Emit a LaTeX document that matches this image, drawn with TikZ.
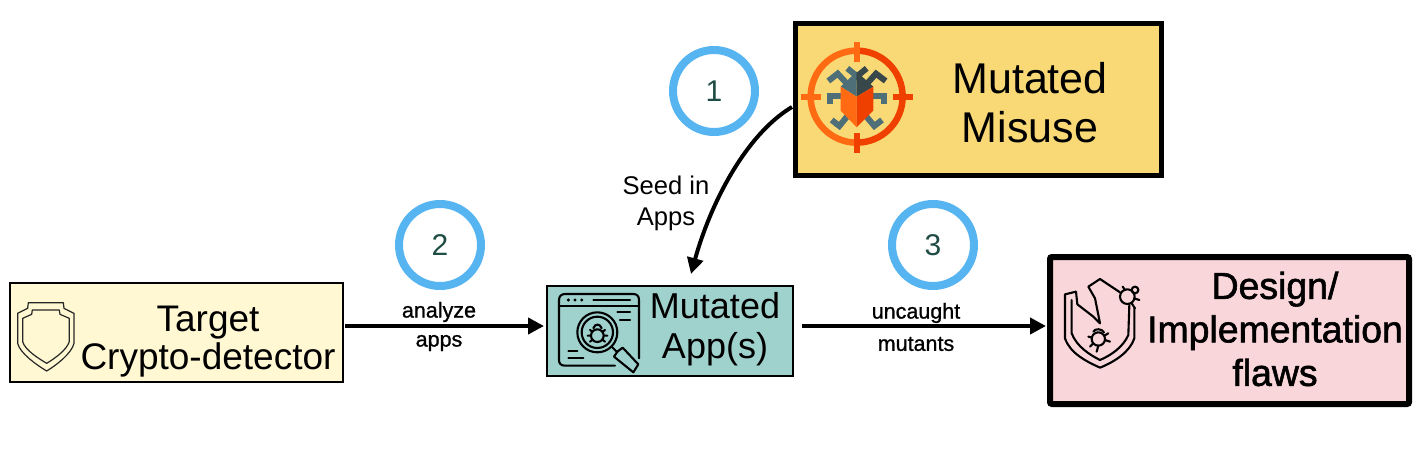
\documentclass[tikz,border=0pt]{standalone}
\usepackage{fontspec}
\setmainfont{Liberation Sans}
\newfontfamily\fatfont[FakeBold=1.6]{Liberation Sans}
\newfontfamily\semifont[FakeBold=1]{Liberation Sans}
\usetikzlibrary{arrows.meta,calc}
\definecolor{ringblue}{HTML}{56B4F0}
\definecolor{numcol}{HTML}{1F4D45}
\definecolor{boxyellow}{HTML}{FFF8D2}
\definecolor{boxteal}{HTML}{9FD1CD}
\definecolor{boxgold}{HTML}{F9D976}
\definecolor{boxpink}{HTML}{F9D6DA}
\definecolor{orangeL}{HTML}{FF6A13}
\definecolor{orangeR}{HTML}{F04000}
\definecolor{bugL}{HTML}{4F6F78}
\definecolor{bugR}{HTML}{37474A}
\tikzset{
  flowbox/.style={draw=black,outer sep=0pt,inner sep=0pt,anchor=north west},
  stepring/.style={circle,draw=ringblue,line width=8pt,fill=white,minimum size=82pt,inner sep=0pt,text=numcol,font=\fontsize{30}{30}\selectfont},
  flow/.style={line width=4pt,-{Triangle[length=16pt,width=16pt]}},
  edgetext/.style={font=\fontsize{21.5}{21.5}\selectfont\semifont,inner sep=0pt,align=center},
  seedtext/.style={font=\fontsize{25.6}{31}\selectfont,inner sep=0pt,align=center},
  boxtext/.style={inner sep=0pt,align=center,text=black},
  iconline/.style={line width=2.1pt,line cap=round,line join=round},
  thinicon/.style={line width=1.2pt,line join=round,color=black!85},
  bugleg/.style={line width=6pt,draw=bugL,line join=miter}
}
\begin{document}
\begin{tikzpicture}[x=1pt,y=-1pt]
\useasboundingbox (0,0) rectangle (1423,465);
% boxes
\node[flowbox,fill=boxyellow,line width=2.6pt,minimum width=333pt,minimum height=99pt] (target) at (10,283) {};
\node[flowbox,fill=boxteal,line width=2.6pt,minimum width=246pt,minimum height=90pt] (app) at (547,286) {};
\node[flowbox,fill=boxgold,line width=5pt,minimum width=366pt,minimum height=152pt] (misuse) at (795,24) {};
\node[flowbox,fill=boxpink,line width=6pt,rounded corners=2pt,minimum width=359pt,minimum height=147pt] (flaws) at (1050,257) {};
% box texts
\node[boxtext,font=\fontsize{37}{38}\selectfont] (targettext) at (208,342) {Target\\Crypto-detector};
\node[boxtext,font=\fontsize{36}{40}\selectfont] (apptext) at (715,329) {Mutated\\App(s)};
\node[boxtext,font=\fontsize{43}{49}\selectfont] (misusetext) at (1030,103) {Mutated\\Misuse};
\node[boxtext,font=\fontsize{37.4}{43.5}\selectfont\fatfont] (flawstext) at (1275,329) {Design/\\Implementation\\flaws};
% step circles
\node[stepring] (s1) at (714,91) {1};
\node[stepring] (s2) at (440,245) {2};
\node[stepring] (s3) at (933,245) {3};
% connectors
\coordinate (seedtip) at (691,274);
\draw[flow] (target.east|-0,326) ++(2,0) -- ($(app.west|-0,326)+(-3,0)$);
\draw[flow] (app.east|-0,326) ++(9,0) -- ($(flaws.west|-0,326)+(-4,0)$);
\draw[flow] ($(misuse.west)+(-3,7)$) .. controls (745,135) and (710,205) .. (seedtip);
% edge labels
\node[seedtext] (l1) at (666,203) {Seed in\\Apps};
\node[edgetext] (l2a) at (439,312) {analyze};
\node[edgetext] (l2b) at (439,343) {apps};
\node[edgetext] (l3a) at (916,313) {uncaught};
\node[edgetext] (l3b) at (916,344) {mutants};
% target-bug icon
\begin{scope}[shift={(790,15)},x=0.3333pt,y=-0.3333pt]
  \draw[orangeL,line width=6.5pt] (200,107) arc[start angle=90,end angle=270,x radius=138,y radius=-138];
  \draw[orangeR,line width=6.5pt] (200,107) arc[start angle=90,end angle=-90,x radius=138,y radius=-138];
  \draw[orangeL,line width=6pt] (200,80) -- (200,140);
  \draw[orangeL,line width=6pt] (33,247) -- (93,247);
  \draw[orangeR,line width=6pt] (308,247) -- (368,247);
  \draw[orangeR,line width=6pt] (200,353) -- (200,413);
  \draw[bugleg] (208,190) -- (172,160);
  \draw[bugleg,draw=bugR] (194,190) -- (230,160);
  \draw[bugleg] (115,198) -- (143,176) -- (170,205);
  \draw[bugleg,draw=bugR] (287,198) -- (258,176) -- (232,205);
  \draw[bugleg] (160,243) -- (120,243) -- (120,268);
  \draw[bugleg] (240,243) -- (282,243) -- (282,268);
  \draw[bugleg] (175,300) -- (148,333) -- (125,315);
  \draw[bugleg] (225,300) -- (253,333) -- (276,315);
  \fill[bugL] (152,215) -- (200,170) -- (200,245) -- cycle;
  \fill[bugR] (250,215) -- (200,170) -- (200,245) -- cycle;
  \fill[orangeL] (152,215) -- (200,245) -- (200,337) -- (152,287) -- cycle;
  \fill[orangeR] (250,215) -- (200,245) -- (200,337) -- (250,287) -- cycle;
\end{scope}
% shield icon
\begin{scope}[shift={(0,275)},x=0.3333pt,y=-0.3333pt]
  \draw[thinicon] (85,83) -- (190,83) -- (192,100) -- (222,115) -- (222,205) .. controls (215,235) and (170,270) .. (140,288) .. controls (110,270) and (60,235) .. (53,205) -- (53,115) -- (83,100) -- cycle;
  \draw[thinicon] (97,105) -- (178,105) -- (180,118) -- (208,130) -- (208,200) .. controls (200,225) and (165,250) .. (140,265) .. controls (115,250) and (75,225) .. (68,200) -- (68,130) -- (95,118) -- cycle;
\end{scope}
% app icon
\begin{scope}[shift={(540,275)},x=0.3333pt,y=-0.3333pt,iconline]
  \draw (225,272) -- (75,272) .. controls (62,272) and (57,265) .. (57,255) -- (57,75) .. controls (57,63) and (65,57) .. (75,57) -- (280,57) .. controls (292,57) and (297,65) .. (297,75) -- (297,250);
  \draw (57,92) -- (297,92);
  \fill (85,75) circle[radius=5];
  \fill (105,75) circle[radius=5];
  \fill (125,75) circle[radius=5];
  \draw (160,75) -- (270,75);
  \draw (232,112) -- (270,112);
  \draw (240,135) -- (270,135);
  \draw (85,228) -- (112,228);
  \draw (85,248) -- (130,248);
  \draw (172,172) circle[radius=60];
  \draw (172,172) circle[radius=47];
  \draw (172,182) circle[radius=19];
  \draw (160,160) .. controls (165,145) and (180,145) .. (185,160);
  \draw (150,165) -- (157,170) (195,165) -- (188,170) (143,182) -- (153,182) (202,182) -- (192,182) (150,200) -- (158,194) (195,200) -- (187,194);
  \draw (215,215) -- (232,232);
  \draw (232,230) -- (248,218) -- (295,268) -- (280,292) -- (222,245) -- cycle;
\end{scope}
% broken shield icon
\begin{scope}[shift={(1040,245)},x=0.3333pt,y=-0.3333pt,iconline]
  \draw (108,140) -- (75,148) -- (75,280) .. controls (90,325) and (140,350) .. (180,368) .. controls (225,350) and (270,320) .. (283,280) -- (283,190);
  \draw (108,140) -- (112,178) -- (160,215) -- (180,235) -- (165,160) -- (145,125) -- (180,102) -- (240,142);
  \draw (95,165) -- (95,265) .. controls (110,305) and (150,330) .. (180,345) .. controls (215,330) and (250,305) .. (265,270) -- (268,180);
  \draw (262,155) circle[radius=22];
  \draw (285,135) circle[radius=10];
  \draw (248,125) -- (255,135) (298,165) -- (282,160) (285,190) -- (275,175);
  \draw (175,282) circle[radius=20];
  \draw (160,260) .. controls (165,250) and (185,250) .. (192,262);
  \draw (145,275) -- (156,278) (205,265) -- (193,272) (150,305) -- (160,295) (170,320) -- (175,302) (210,290) -- (195,285);
\end{scope}
\end{tikzpicture}
\end{document}
